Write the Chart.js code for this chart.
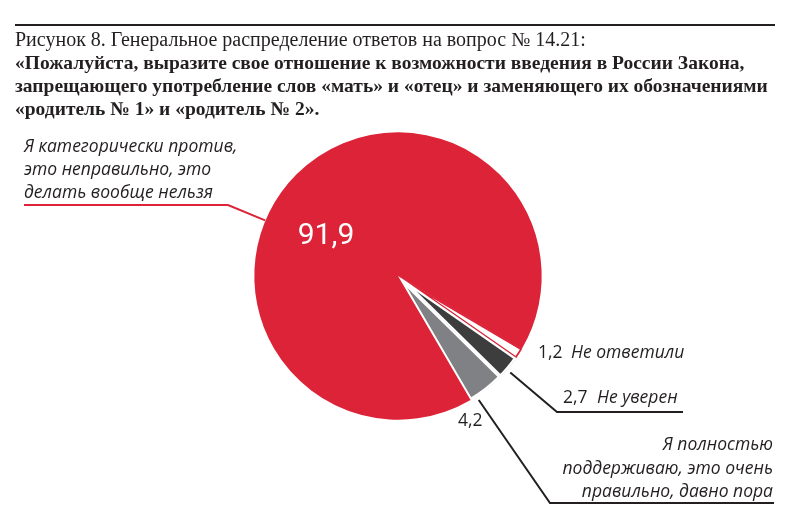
<!DOCTYPE html>
<html>
<head>
<meta charset="utf-8">
<script src="https://cdn.jsdelivr.net/npm/chart.js@4.4.1/dist/chart.umd.min.js"></script>
<style>
  html, body { margin: 0; padding: 0; background: #fff; }
  #wrap { width: 800px; height: 530px; position: relative; }
</style>
</head>
<body>
<div id="wrap"><canvas id="pieChart" width="800" height="530"></canvas></div>
<script>
// Данные
const categories = ['Не ответили', 'Не уверен', 'Я полностью поддерживаю, это очень правильно, давно пора', 'Я категорически против, это неправильно, это делать вообще нельзя'];
const values = [1.2, 2.7, 4.2, 91.9];
const valueLabels = ['1,2', '2,7', '4,2', '91,9'];
const sliceColors = ['#ffffff', '#3d3d3d', '#808184', '#dc2337'];
const borderColors = ['#dc2337', '#ffffff', '#ffffff', '#ffffff'];

const titleLines = [
  'Рисунок 8. Генеральное распределение ответов на вопрос № 14.21:',
  '«Пожалуйста, выразите свое отношение к возможности введения в России Закона,',
  'запрещающего употребление слов «мать» и «отец» и заменяющего их обозначениями',
  '«родитель № 1» и «родитель № 2».'
];

const RED = '#dc2337';
const ITALIC = 'italic 17.5px "Open Sans", sans-serif';
const PLAIN = '17.5px "Open Sans", sans-serif';

// точка на краю сектора
function edgePoint(arc, frac, extra) {
  const a = arc.startAngle + (arc.endAngle - arc.startAngle) * frac;
  const r = arc.outerRadius + (extra || 0);
  return { x: arc.x + Math.cos(a) * r, y: arc.y + Math.sin(a) * r };
}

function line(ctx, pts, color, w) {
  ctx.beginPath();
  ctx.moveTo(pts[0].x, pts[0].y);
  for (let i = 1; i < pts.length; i++) ctx.lineTo(pts[i].x, pts[i].y);
  ctx.strokeStyle = color;
  ctx.lineWidth = w;
  ctx.stroke();
}

// Подписи, заголовок и выноски
const labelsPlugin = {
  id: 'labelsPlugin',
  afterDraw(chart) {
    const ctx = chart.ctx;
    const arcs = chart.getDatasetMeta(0).data;
    ctx.save();

    // верхняя линия
    line(ctx, [{ x: 15, y: 25 }, { x: 775, y: 25 }], '#231f20', 2);

    // заголовок
    ctx.fillStyle = '#231f20';
    ctx.textBaseline = 'middle';
    ctx.textAlign = 'left';
    ctx.font = '20px "Liberation Serif", serif';
    ctx.fillText(titleLines[0], 15, 41);
    ctx.font = 'bold 19.5px "Liberation Serif", serif';
    ctx.fillText(titleLines[1], 15, 64);
    ctx.fillText(titleLines[2], 15, 87);
    ctx.fillText(titleLines[3], 15, 110);

    // 91,9
    ctx.fillStyle = '#ffffff';
    ctx.font = '30px "Roboto", sans-serif';
    ctx.textAlign = 'center';
    ctx.fillText(valueLabels[3], 326, 236);

    // левая подпись
    ctx.fillStyle = '#231f20';
    ctx.textAlign = 'left';
    ctx.font = ITALIC;
    ctx.fillText('Я категорически против,', 24, 147);
    ctx.fillText('это неправильно, это', 24, 170);
    ctx.fillText('делать вообще нельзя', 24, 193);
    const red = arcs[3];
    const ang = 202.7 * Math.PI / 180;
    line(ctx, [{ x: 24, y: 205 }, { x: 228, y: 205 },
      { x: red.x + Math.cos(ang) * red.outerRadius, y: red.y + Math.sin(ang) * red.outerRadius }], RED, 2);

    // 1,2 Не ответили
    ctx.font = PLAIN;
    ctx.fillText(valueLabels[0], 538, 353);
    ctx.font = ITALIC;
    ctx.fillText(categories[0], 571, 353);

    // 2,7 Не уверен
    const p1 = edgePoint(arcs[1], 0.6, 4);
    line(ctx, [p1, { x: 557, y: 412 }, { x: 683, y: 412 }], '#231f20', 2);
    ctx.font = PLAIN;
    ctx.fillText(valueLabels[1], 563, 398);
    ctx.font = ITALIC;
    ctx.fillText(categories[1], 597, 398);

    // 4,2
    const p2 = edgePoint(arcs[2], 0.82, 4);
    line(ctx, [p2, { x: 550, y: 503 }, { x: 774, y: 503 }], '#231f20', 2);
    ctx.font = PLAIN;
    ctx.fillText(valueLabels[2], 458, 421);
    ctx.font = ITALIC;
    ctx.textAlign = 'right';
    ctx.fillText('Я полностью', 773, 445);
    ctx.fillText('поддерживаю, это очень', 773, 469);
    ctx.fillText('правильно, давно пора', 773, 492);

    ctx.restore();
  }
};

const ctx = document.getElementById('pieChart').getContext('2d');
const pieChart = new Chart(ctx, {
  type: 'pie',
  data: {
    labels: categories,
    datasets: [{
      data: values,
      backgroundColor: sliceColors,
      borderColor: borderColors,
      borderWidth: [1.5, 2, 2, 0],
      borderAlign: 'inner'
    }]
  },
  options: {
    responsive: false,
    animation: false,
    rotation: 120.5,
    layout: { padding: { top: 132, bottom: 110, left: 254, right: 258 } },
    plugins: {
      legend: { display: false },
      tooltip: { enabled: false }
    }
  },
  plugins: [labelsPlugin]
});
</script>
</body>
</html>
